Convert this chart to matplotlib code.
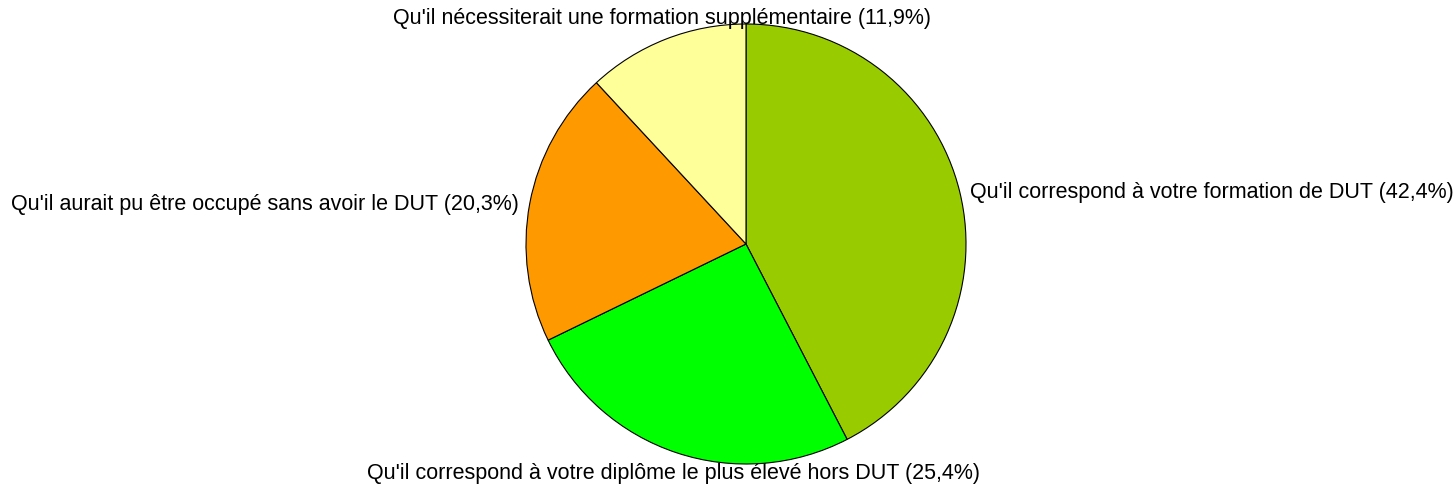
import numpy as np
import matplotlib.pyplot as plt

labels = [
    "Qu'il correspond à votre formation de DUT (42,4%)",
    "Qu'il correspond à votre diplôme le plus élevé hors DUT (25,4%)",
    "Qu'il aurait pu être occupé sans avoir le DUT (20,3%)",
    "Qu'il nécessiterait une formation supplémentaire (11,9%)",
]
values = [42.4, 25.4, 20.3, 11.9]
colors = ['#99CC00', '#00FF00', '#FF9900', '#FFFF99']

plt.rcParams['font.family'] = ['Liberation Sans', 'DejaVu Sans']

fig = plt.figure(figsize=(14.54, 4.86), dpi=100)
W, H = 1454, 486
cx, cy, r = 746, 244, 220
ax = fig.add_axes([(cx - r) / W, (H - cy - r) / H, 2 * r / W, 2 * r / H])

wedges, _ = ax.pie(values, colors=colors, startangle=90, counterclock=False,
                   wedgeprops=dict(edgecolor='black', linewidth=0.8))
ax.set_xlim(-1, 1)
ax.set_ylim(-1, 1)
ax.set_aspect('equal')

# étiquettes autour du camembert
for w, lab in zip(wedges, labels):
    ang = np.deg2rad((w.theta1 + w.theta2) / 2)
    x, y = 1.05 * np.cos(ang), 1.05 * np.sin(ang)
    ha = 'left' if x > 0.5 else ('right' if x < -0.5 else 'center')
    if abs(y) < 0.5:
        va = 'center'
        y -= 0.015
    else:
        va = 'bottom' if y > 0 else 'top'
    ax.text(x, y, lab, ha=ha, va=va, fontsize=15.5, clip_on=False)

fig.savefig('out.png', dpi=100)
